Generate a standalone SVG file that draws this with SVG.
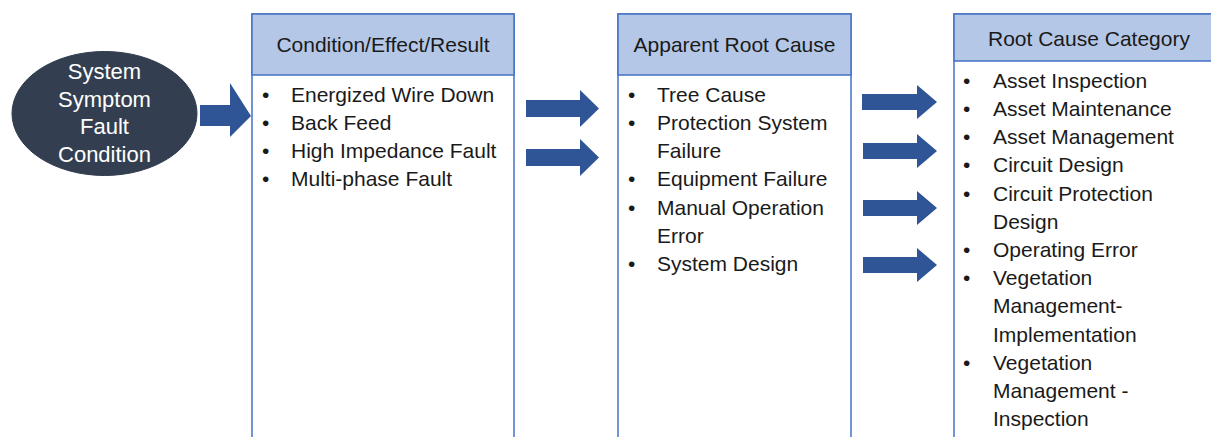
<svg xmlns="http://www.w3.org/2000/svg" width="1211" height="437" viewBox="0 0 1211 437">
<defs>
<style>
.box{fill:#FFFFFF;stroke:#4472C4;stroke-width:1.5}
.hdr{fill:#B4C7E7;stroke:#4472C4;stroke-width:1.5}
.t{font-family:"Liberation Sans",Arial,sans-serif;font-size:21px;fill:#1a1a1a}
.h{font-family:"Liberation Sans",Arial,sans-serif;font-size:21px;fill:#1a1a1a;text-anchor:middle}
.w{font-family:"Liberation Sans",Arial,sans-serif;font-size:22px;fill:#FFFFFF;text-anchor:middle}
.arr{fill:#2F5597}
</style>
</defs>
<rect width="1211" height="437" fill="#FFFFFF"/>
<g id="node-symptom">
<ellipse cx="104.5" cy="113.5" rx="92.5" ry="62" fill="#333F50" stroke="#2F3B4C" stroke-width="1"/>
<text class="w" x="104.5" y="79">System</text>
<text class="w" x="104.5" y="107">Symptom</text>
<text class="w" x="104.5" y="134">Fault</text>
<text class="w" x="104.5" y="162">Condition</text>
</g>
<g id="node-condition">
<rect class="box" x="252" y="14" width="262" height="430"/>
<rect class="hdr" x="252" y="14" width="262" height="61"/>
<text class="h" x="383" y="52">Condition/Effect/Result</text>
<text class="t" x="262" y="102">•</text><text class="t" x="291" y="102">Energized Wire Down</text>
<text class="t" x="262" y="130">•</text><text class="t" x="291" y="130">Back Feed</text>
<text class="t" x="262" y="158">•</text><text class="t" x="291" y="158">High Impedance Fault</text>
<text class="t" x="262" y="186">•</text><text class="t" x="291" y="186">Multi-phase Fault</text>
</g>
<g id="node-apparent">
<rect class="box" x="618" y="14" width="233" height="430"/>
<rect class="hdr" x="618" y="14" width="233" height="61"/>
<text class="h" x="734.5" y="52">Apparent Root Cause</text>
<text class="t" x="628" y="102">•</text><text class="t" x="657" y="102">Tree Cause</text>
<text class="t" x="628" y="130">•</text><text class="t" x="657" y="130">Protection System</text>
<text class="t" x="657" y="158">Failure</text>
<text class="t" x="628" y="186">•</text><text class="t" x="657" y="186">Equipment Failure</text>
<text class="t" x="628" y="215">•</text><text class="t" x="657" y="215">Manual Operation</text>
<text class="t" x="657" y="243">Error</text>
<text class="t" x="628" y="271">•</text><text class="t" x="657" y="271">System Design</text>
</g>
<g id="node-category">
<rect class="box" x="954" y="14" width="262" height="430"/>
<rect class="hdr" x="954" y="14" width="262" height="47"/>
<text class="h" x="1089" y="46">Root Cause Category</text>
<text class="t" x="963" y="88">•</text><text class="t" x="993" y="88">Asset Inspection</text>
<text class="t" x="963" y="116">•</text><text class="t" x="993" y="116">Asset Maintenance</text>
<text class="t" x="963" y="144">•</text><text class="t" x="993" y="144">Asset Management</text>
<text class="t" x="963" y="172">•</text><text class="t" x="993" y="172">Circuit Design</text>
<text class="t" x="963" y="201">•</text><text class="t" x="993" y="201">Circuit Protection</text>
<text class="t" x="993" y="229">Design</text>
<text class="t" x="963" y="257">•</text><text class="t" x="993" y="257">Operating Error</text>
<text class="t" x="963" y="285">•</text><text class="t" x="993" y="285">Vegetation</text>
<text class="t" x="993" y="313">Management-</text>
<text class="t" x="993" y="342">Implementation</text>
<text class="t" x="963" y="370">•</text><text class="t" x="993" y="370">Vegetation</text>
<text class="t" x="993" y="398">Management -</text>
<text class="t" x="993" y="426">Inspection</text>
</g>
<g id="connectors">
<path class="arr" d="M200,105 L230,105 L230,83 L251,116 L230,137 L230,126 L200,126 Z"/>
<path class="arr" d="M526,100 L580,100 L580,90 L599,108.5 L580,127 L580,117 L526,117 Z"/>
<path class="arr" d="M526,149 L580,149 L580,139 L599,157.5 L580,176 L580,166 L526,166 Z"/>
<path class="arr" d="M862,94 L917,94 L917,85 L937,102 L917,119 L917,110 L862,110 Z"/>
<path class="arr" d="M863,143 L917,143 L917,134 L937,151 L917,168 L917,159 L863,159 Z"/>
<path class="arr" d="M863,200 L917,200 L917,191 L937,208 L917,225 L917,216 L863,216 Z"/>
<path class="arr" d="M863,257 L917,257 L917,248 L937,265 L917,282 L917,273 L863,273 Z"/>
</g>
</svg>
